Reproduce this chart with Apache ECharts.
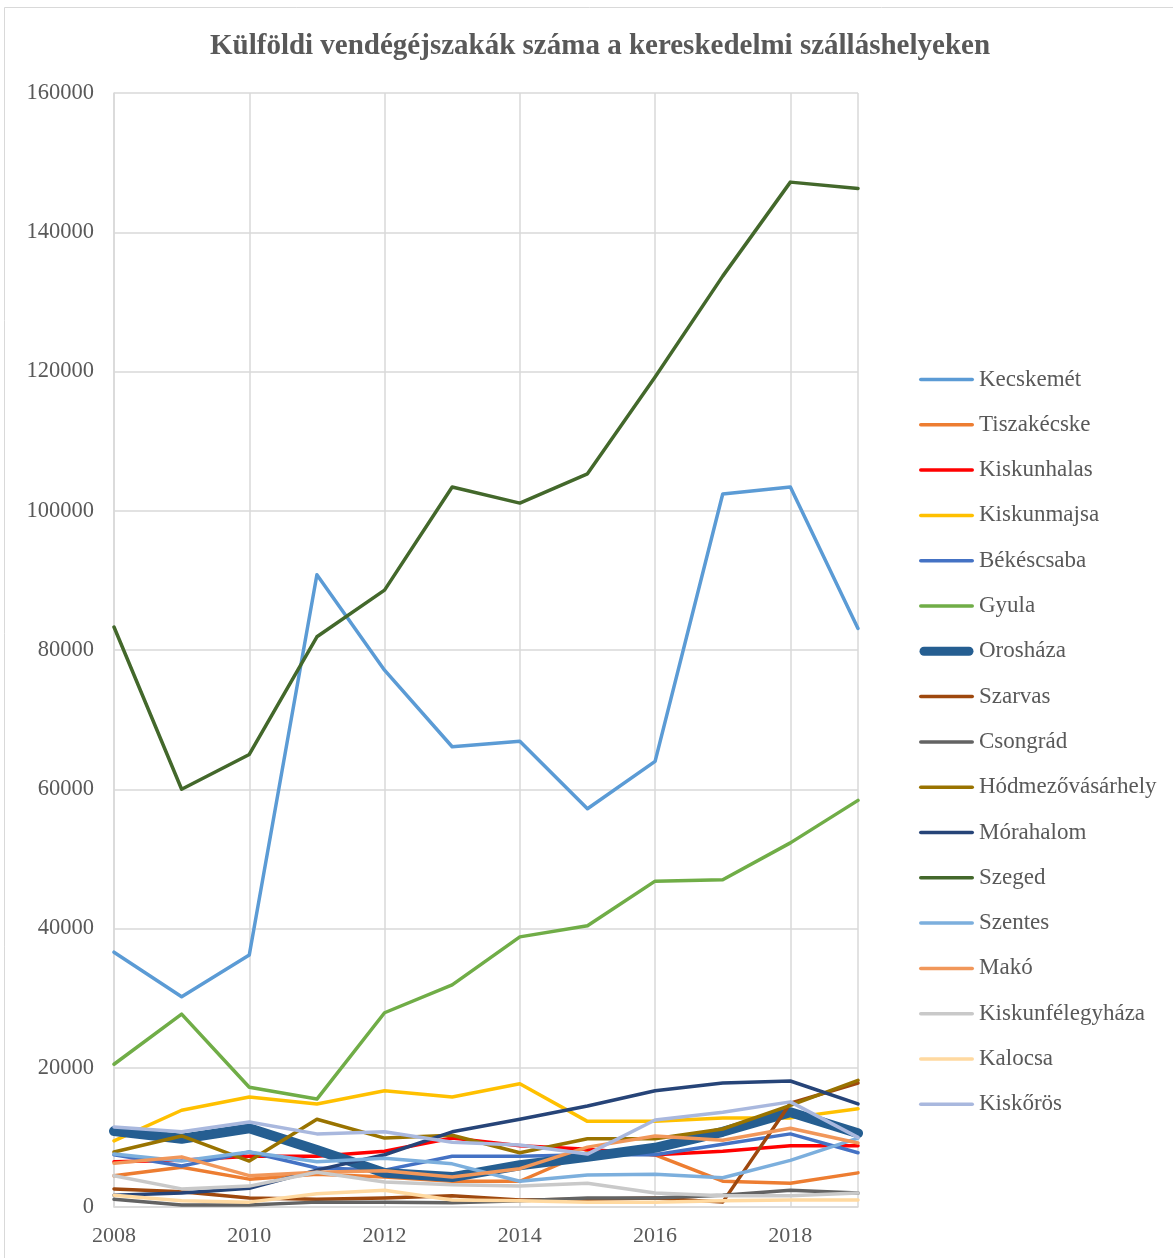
<!DOCTYPE html>
<html>
<head>
<meta charset="utf-8">
<script src="https://cdn.jsdelivr.net/npm/echarts@6/dist/echarts.min.js"></script>
<style>
html,body{margin:0;padding:0;background:#fff;}
#chart{width:1173px;height:1258px;}
</style>
</head>
<body>
<div id="chart"></div>
<script>
const years = [2008,2009,2010,2011,2012,2013,2014,2015,2016,2017,2018,2019];
const yTicks = [0,20000,40000,60000,80000,100000,120000,140000,160000];
const xTicks = [2008,2010,2012,2014,2016,2018];

const kecskemet = [36600,30200,36200,90800,77100,66100,66900,57200,64000,102400,103400,83100];
const tiszakecske = [4500,5700,4000,4700,4300,3700,3700,7900,7500,3700,3400,4900];
const kiskunhalas = [6500,6700,7300,7300,8000,9900,8800,8300,7500,8000,8800,8800];
const kiskunmajsa = [9500,13900,15800,14800,16700,15800,17700,12300,12300,12800,12800,14100];
const bekescsaba = [7500,5900,7900,5600,5300,7300,7300,7500,7500,9000,10500,7800];
const gyula = [20500,27700,17200,15500,27900,31900,38800,40400,46800,47000,52300,58400];
const oroshaza = [10900,9800,11300,8200,4900,4300,6000,7200,8500,10800,13600,10600];
const szarvas = [2600,2200,1300,1100,1300,1600,1000,1100,1300,700,14900,17800];
const csongrad = [1100,300,300,700,700,600,900,1300,1300,1700,2400,2000];
const hodmezovasarhely = [7900,10200,6600,12600,9900,10300,7800,9800,9800,11200,14600,18200];
const morahalom = [1700,2000,2700,5300,7500,10800,12600,14500,16700,17800,18100,14800];
const szeged = [83300,60000,65000,81900,88600,103400,101100,105300,119200,133700,147200,146300];
const szentes = [7600,6600,7900,6500,7000,6200,3700,4600,4700,4200,6700,9900];
const mako = [6300,7200,4500,5000,5200,4300,5500,8600,10200,9600,11300,9200];
const kiskunfelegyhaza = [4500,2600,3000,5000,3600,3200,3000,3400,2000,1600,1600,2000];
const kalocsa = [1700,900,700,1900,2400,1000,900,700,700,900,1000,1000];
const kiskoros = [11500,10800,12200,10500,10800,9300,8900,7600,12500,13600,15100,10000];

const seriesDefs = [
  ['Kecskemét', kecskemet, '#5B9BD5', 3.5],
  ['Tiszakécske', tiszakecske, '#ED7D31', 3.5],
  ['Kiskunhalas', kiskunhalas, '#FF0000', 3.5],
  ['Kiskunmajsa', kiskunmajsa, '#FFC000', 3.5],
  ['Békéscsaba', bekescsaba, '#4472C4', 3.5],
  ['Gyula', gyula, '#70AD47', 3.5],
  ['Orosháza', oroshaza, '#255E91', 10],
  ['Szarvas', szarvas, '#9E480E', 3.5],
  ['Csongrád', csongrad, '#636363', 3.5],
  ['Hódmezővásárhely', hodmezovasarhely, '#997300', 3.5],
  ['Mórahalom', morahalom, '#264478', 3.5],
  ['Szeged', szeged, '#43682B', 3.5],
  ['Szentes', szentes, '#7CAFDD', 3.5],
  ['Makó', mako, '#F1975A', 3.5],
  ['Kiskunfélegyháza', kiskunfelegyhaza, '#C9C9C9', 3.5],
  ['Kalocsa', kalocsa, '#FFD9A0', 3.5],
  ['Kiskőrös', kiskoros, '#A9B8DE', 3.5]
];

const thinIcon = 'path://M0,0 M55,10 M1.75,3.25 L53.25,3.25 A1.75,1.75 0 0 1 53.25,6.75 L1.75,6.75 A1.75,1.75 0 0 1 1.75,3.25 Z';
const thickIcon = 'path://M0,0 M55,10 M5,0.5 L50,0.5 A4.5,4.5 0 0 1 50,9.5 L5,9.5 A4.5,4.5 0 0 1 5,0.5 Z';

const font = '"Liberation Serif", "DejaVu Serif", serif';
const chart = echarts.init(document.getElementById('chart'));
chart.setOption({
  animation: false,
  backgroundColor: '#fff',
  textStyle: {fontFamily: font},
  graphic: [{
    type: 'rect', shape: {x: 4.5, y: 7.5, width: 1200, height: 1300},
    style: {fill: 'none', stroke: '#D9D9D9', lineWidth: 1}, silent: true, z: -10
  }],
  title: {
    text: 'Külföldi vendégéjszakák száma a kereskedelmi szálláshelyeken',
    left: 595, top: 27, textAlign: 'center',
    textStyle: {fontFamily: font, fontSize: 29, fontWeight: 'bold', color: '#595959'}
  },
  legend: {
    orient: 'vertical', left: 914, top: 363, itemGap: 22.3,
    itemWidth: 55, itemHeight: 10,
    textStyle: {fontFamily: font, fontSize: 23, color: '#595959'},
    data: seriesDefs.map(d => ({name: d[0], icon: d[3] > 5 ? thickIcon : thinIcon}))
  },
  grid: {left: 114, right: 315, top: 93, bottom: 51, containLabel: false},
  xAxis: {
    type: 'value', min: 2008, max: 2019, interval: 2,
    axisLine: {show: true, lineStyle: {color: '#D9D9D9', width: 1.5}},
    axisTick: {show: false},
    axisLabel: {formatter: v => String(v), color: '#595959', fontSize: 22, fontFamily: font, margin: 18,
      showMaxLabel: false},
    splitLine: {show: true, lineStyle: {color: '#D9D9D9', width: 1.5}}
  },
  yAxis: {
    type: 'value', min: 0, max: 160000, interval: 20000,
    axisLine: {show: true, lineStyle: {color: '#D9D9D9', width: 1.5}},
    axisTick: {show: false},
    axisLabel: {formatter: v => String(v), color: '#595959', fontSize: 22.5, fontFamily: font, margin: 20},
    splitLine: {show: true, lineStyle: {color: '#D9D9D9', width: 1.5}}
  },
  series: seriesDefs.map(d => ({
    name: d[0], type: 'line', symbol: 'none',
    data: years.map((y, i) => [y, d[1][i]]),
    lineStyle: {color: d[2], width: d[3], cap: 'round', join: 'round'},
    itemStyle: {color: d[2]},
    emphasis: {disabled: true}
  }))
});
</script>
</body>
</html>
